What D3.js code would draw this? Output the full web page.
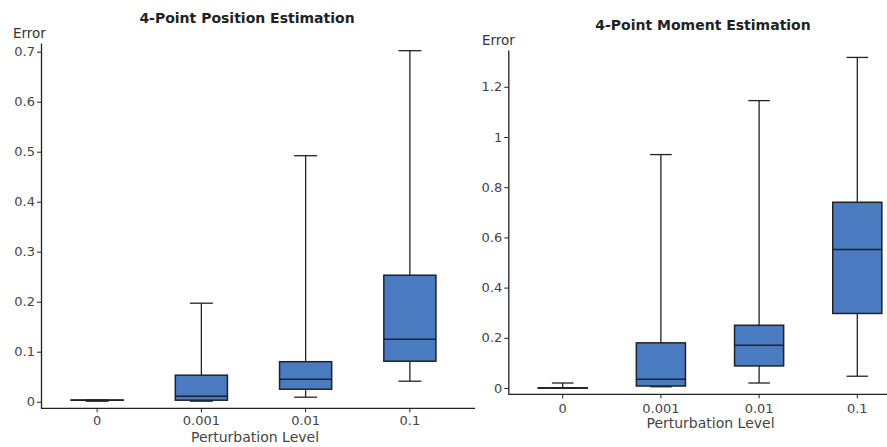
<!DOCTYPE html>
<html>
<head>
<meta charset="utf-8">
<script src="https://cdn.jsdelivr.net/npm/d3@7"></script>
<style>
  body { margin: 0; background: #fff; }
  svg { display: block; font-family: "DejaVu Sans", Verdana, sans-serif; }
</style>
</head>
<body>
<div id="chart-container"></div>
<script>
// two box plots - error vs perturbation level

const levels = ["0", "0.001", "0.01", "0.1"];

// 4-point position estimation
const posMin    = [0.001, 0.001, 0.009, 0.041];
const posQ1     = [0.003, 0.003, 0.025, 0.081];
const posMedian = [0.003, 0.011, 0.045, 0.125];
const posQ3     = [0.0034, 0.053, 0.080, 0.253];
const posMax    = [0.0034, 0.197, 0.492, 0.702];
const posTicks  = [0, 0.1, 0.2, 0.3, 0.4, 0.5, 0.6, 0.7];

// 4-point moment estimation
const momMin    = [0, 0.005, 0.02, 0.047];
const momQ1     = [0, 0.008, 0.088, 0.297];
const momMedian = [0.0005, 0.035, 0.17, 0.552];
const momQ3     = [0.001, 0.18, 0.25, 0.74];
const momMax    = [0.02, 0.93, 1.145, 1.317];
const momTicks  = [0, 0.2, 0.4, 0.6, 0.8, 1, 1.2];

const svg = d3.select("#chart-container")
    .append("svg")
    .attr("width", 887)
    .attr("height", 447);

const panels = [
    {
        title: "4-Point Position Estimation",
        min: posMin, q1: posQ1, median: posMedian, q3: posQ3, max: posMax, ticks: posTicks,
        axisX: 41, axisEnd: 475, band: [45, 462],
        top: 43, bottom: 408.3, domain: [-0.0132, 0.7174],
        titlePos: [247, 22.6], errorPos: [13, 37.7], xLabelPos: [255, 441.7], xTickPad: 3
    },
    {
        title: "4-Point Moment Estimation",
        min: momMin, q1: momQ1, median: momMedian, q3: momQ3, max: momMax, ticks: momTicks,
        axisX: 508.3, axisEnd: 887, band: [513.6, 906.4],
        top: 50, bottom: 394.3, domain: [-0.025, 1.3466],
        titlePos: [703, 29.5], errorPos: [482, 45], xLabelPos: [710.5, 428.3], xTickPad: 5
    }
];

const boxFill = "#4a7abf";
const ink = "#222";

panels.forEach(function(p) {
    const g = svg.append("g");

    const x = d3.scaleBand().domain(levels).range(p.band).padding(0);
    const y = d3.scaleLinear().domain(p.domain).range([p.bottom, p.top]);

    // y axis
    const yAxis = g.append("g")
        .attr("transform", `translate(${p.axisX},0)`)
        .call(d3.axisLeft(y).tickValues(p.ticks).tickSize(4).tickPadding(2).tickSizeOuter(0)
              .tickFormat(d => String(d)));
    yAxis.select(".domain").attr("stroke", ink).attr("stroke-width", 1.3);

    // x axis
    const xAxis = g.append("g")
        .attr("transform", `translate(0,${p.bottom})`)
        .call(d3.axisBottom(x).tickSize(4).tickPadding(p.xTickPad).tickSizeOuter(0));
    xAxis.select(".domain").attr("d", `M${p.axisX},0H${p.axisEnd}`)
        .attr("stroke", ink).attr("stroke-width", 1.3);

    [yAxis, xAxis].forEach(function(a) {
        a.selectAll(".tick line").attr("stroke", ink);
        a.selectAll(".tick text").attr("fill", "#444").attr("font-size", "13px")
            .attr("font-family", "DejaVu Sans, Verdana, sans-serif");
    });

    const bw = x.bandwidth() * 0.5;
    const cw = x.bandwidth() * 0.22;

    levels.forEach(function(lv, i) {
        const cx = x(lv) + x.bandwidth() / 2;
        const bg = g.append("g");

        // whiskers
        bg.append("line")
            .attr("x1", cx).attr("x2", cx)
            .attr("y1", y(p.max[i])).attr("y2", y(p.q3[i]))
            .attr("stroke", ink).attr("stroke-width", 1.3);
        bg.append("line")
            .attr("x1", cx).attr("x2", cx)
            .attr("y1", y(p.q1[i])).attr("y2", y(p.min[i]))
            .attr("stroke", ink).attr("stroke-width", 1.3);
        [p.max[i], p.min[i]].forEach(function(v) {
            bg.append("line")
                .attr("x1", cx - cw / 2).attr("x2", cx + cw / 2)
                .attr("y1", y(v)).attr("y2", y(v))
                .attr("stroke", ink).attr("stroke-width", 1.3);
        });

        // box
        bg.append("rect")
            .attr("x", cx - bw / 2)
            .attr("y", y(p.q3[i]))
            .attr("width", bw)
            .attr("height", Math.max(0, y(p.q1[i]) - y(p.q3[i])))
            .attr("fill", boxFill)
            .attr("stroke", ink)
            .attr("stroke-width", 1.5);

        bg.append("line")
            .attr("x1", cx - bw / 2).attr("x2", cx + bw / 2)
            .attr("y1", y(p.median[i])).attr("y2", y(p.median[i]))
            .attr("stroke", ink).attr("stroke-width", 1.5);
    });

    g.append("text")
        .attr("x", p.titlePos[0]).attr("y", p.titlePos[1])
        .attr("text-anchor", "middle")
        .attr("font-size", "14px").attr("font-weight", "bold")
        .attr("fill", "#222")
        .text(p.title);

    g.append("text")
        .attr("x", p.errorPos[0]).attr("y", p.errorPos[1])
        .attr("font-size", "13.5px").attr("fill", "#333")
        .text("Error");

    g.append("text")
        .attr("x", p.xLabelPos[0]).attr("y", p.xLabelPos[1])
        .attr("text-anchor", "middle")
        .attr("font-size", "14px").attr("fill", "#444")
        .text("Perturbation Level");
});
</script>
</body>
</html>
